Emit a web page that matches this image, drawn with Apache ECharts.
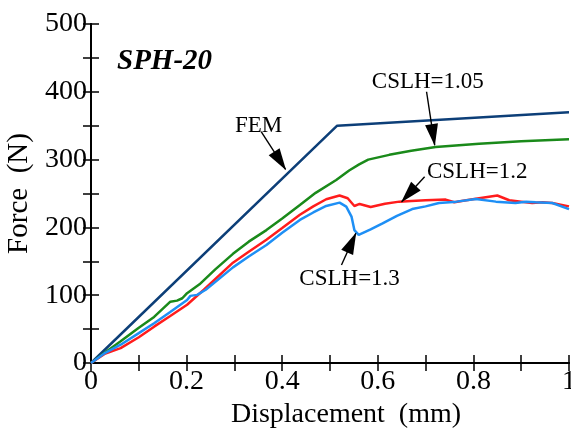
<!DOCTYPE html>
<html>
<head>
<meta charset="utf-8">
<script src="https://cdn.jsdelivr.net/npm/echarts@6/dist/echarts.min.js"></script>
<style>
  html, body { margin: 0; padding: 0; background: #fff; }
  #chart { width: 571px; height: 429px; }
</style>
</head>
<body>
<div id="chart"></div>
<script>
// Force–displacement curves for specimen SPH-20: FEM prediction and three CSLH cases.
const dispFEM  = [0, 0.515, 1];
const forceFEM = [0, 350, 370];

const disp105  = [0, 0.03, 0.062, 0.1, 0.132, 0.166, 0.18, 0.191, 0.201, 0.227, 0.26, 0.297, 0.33, 0.367, 0.4, 0.437, 0.47, 0.513, 0.54, 0.561, 0.58, 0.624, 0.67, 0.721, 0.812, 0.9, 1];
const force105 = [0, 16, 32, 52, 68, 90.5, 92, 95.5, 103, 116, 138, 161, 179, 196, 213, 233, 251, 270, 284, 293, 300, 307, 313, 318.6, 323.5, 327, 330];

const disp12   = [0, 0.03, 0.062, 0.1, 0.132, 0.165, 0.201, 0.236, 0.297, 0.33, 0.367, 0.4, 0.437, 0.465, 0.492, 0.52, 0.537, 0.551, 0.562, 0.585, 0.615, 0.645, 0.67, 0.7, 0.742, 0.76, 0.785, 0.812, 0.85, 0.875, 0.9, 0.923, 0.945, 0.965, 1];
const force12  = [0, 14, 22, 38, 53.6, 69, 86, 108, 148, 164, 181.7, 199, 218.6, 231, 241.5, 247, 243, 231.6, 234.6, 230, 235, 238, 239, 240, 241, 237, 240, 243, 247, 240, 238, 236, 237, 236, 231];

const disp13   = [0, 0.03, 0.062, 0.1, 0.132, 0.165, 0.201, 0.208, 0.222, 0.24, 0.297, 0.33, 0.367, 0.4, 0.437, 0.465, 0.492, 0.52, 0.534, 0.545, 0.551, 0.56, 0.585, 0.61, 0.64, 0.672, 0.7, 0.728, 0.765, 0.805, 0.847, 0.888, 0.91, 0.93, 0.965, 1];
const force13  = [0, 15, 27, 44, 58.6, 75, 93, 99, 100.5, 108, 141, 157, 174, 192, 211, 222, 231.6, 236.5, 230.6, 216, 196, 189, 197, 206, 217, 227, 231, 236, 238, 242, 238, 236, 238, 237, 236, 227];

const xTicks = [0, 0.2, 0.4, 0.6, 0.8, 1];
const yTicks = [0, 100, 200, 300, 400, 500];

// Callout texts with their anchor and arrow end points (data units)
const noteText   = ['FEM', 'CSLH=1.05', 'CSLH=1.2', 'CSLH=1.3'];
const noteAt     = [[0.3505, 349.6], [0.7046, 414.5], [0.808, 281.7], [0.541, 123.9]];
const arrowFrom  = [[0.356, 341.2], [0.702, 400.1], [0.698, 274.8], [0.524, 144.5]];
const arrowTo    = [[0.407, 285.7], [0.719, 321.5], [0.650, 237.9], [0.554, 191.3]];

const zip = (xs, ys) => xs.map((x, i) => [x, ys[i]]);
const serif = '"Liberation Serif", "Times New Roman", serif';

const chart = echarts.init(document.getElementById('chart'), null, { renderer: 'canvas' });

const axisLine = { show: true, lineStyle: { color: '#000', width: 2 } };
const tick = { show: true, inside: true, length: 8, lineStyle: { color: '#000', width: 1.5 } };
const minor = { show: true, splitNumber: 2, length: 8, lineStyle: { color: '#000', width: 1.5 } };

const curve = (name, data, color) => ({
  name, type: 'line', data, showSymbol: false, symbol: 'none',
  lineStyle: { color, width: 2.5 }, z: 3
});

chart.setOption({
  animation: false,
  backgroundColor: '#fff',
  title: {
    text: 'SPH-20', left: 117, top: 47, padding: 0,
    textStyle: { fontFamily: serif, fontStyle: 'italic', fontWeight: 'bold', fontSize: 29, color: '#000' }
  },
  grid: { left: 91, right: 2, top: 24, bottom: 66, containLabel: false, outerBoundsMode: 'none' },
  xAxis: [
    {
      type: 'value', position: 'bottom', min: xTicks[0], max: xTicks[xTicks.length - 1],
      interval: xTicks[1] - xTicks[0],
      name: 'Displacement  (mm)', nameLocation: 'middle', nameGap: 34,
      nameTextStyle: { fontFamily: serif, fontSize: 28, color: '#000', padding: [0, 0, 0, 32] },
      axisLine, axisTick: tick, minorTick: minor, splitLine: { show: false },
      axisLabel: { margin: 5, fontFamily: serif, fontSize: 28, color: '#000' }
    },
    {
      type: 'value', position: 'top', min: 0, max: 1, interval: 0.1,
      axisLine, axisTick: tick, axisLabel: { show: false }, splitLine: { show: false }
    }
  ],
  yAxis: [
    {
      type: 'value', position: 'left', min: yTicks[0], max: yTicks[yTicks.length - 1],
      interval: yTicks[1] - yTicks[0],
      name: 'Force  (N)', nameLocation: 'middle', nameGap: 52, nameRotate: 90,
      nameTextStyle: { fontFamily: serif, fontSize: 29, color: '#000' },
      axisLine, axisTick: tick, minorTick: minor, splitLine: { show: false },
      axisLabel: { margin: 4, fontFamily: serif, fontSize: 28, color: '#000' }
    },
    {
      type: 'value', position: 'right', min: 0, max: 500, interval: 50,
      axisLine, axisTick: tick, axisLabel: { show: false }, splitLine: { show: false }
    }
  ],
  series: [
    curve('FEM', zip(dispFEM, forceFEM), '#0d3f78'),
    curve('CSLH=1.05', zip(disp105, force105), '#1a8a1a'),
    curve('CSLH=1.2', zip(disp12, force12), '#ff1c1c'),
    curve('CSLH=1.3', zip(disp13, force13), '#1e8ff5'),
    {
      name: 'notes', type: 'scatter', symbolSize: 0, silent: true, z: 5,
      itemStyle: { color: '#000', opacity: 1 },
      data: noteAt.map((p, i) => [p[0], p[1], noteText[i]]),
      label: {
        show: true, position: 'inside', formatter: p => p.data[2],
        fontFamily: serif, fontSize: 23, color: '#000', textBorderWidth: 0, opacity: 1
      },
      markLine: {
        silent: true, animation: false,
        symbol: ['none', 'triangle'],
        label: { show: false },
        itemStyle: { color: '#000' },
        lineStyle: { color: '#000', width: 1.4, type: 'solid' },
        data: arrowFrom.map((p, i) => [
          { coord: p, symbol: 'none' },
          { coord: arrowTo[i], symbol: 'triangle', symbolSize: [13, 22], symbolOffset: [0, 10] }
        ])
      }
    }
  ]
});
</script>
</body>
</html>
